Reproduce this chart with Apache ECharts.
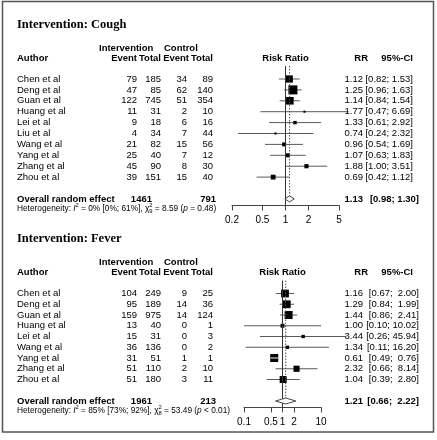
<!DOCTYPE html>
<html><head><meta charset="utf-8">
<script src="https://cdn.jsdelivr.net/npm/echarts@6/dist/echarts.min.js"></script>
<style>html,body{margin:0;padding:0;background:#fff}#c{width:437px;height:440px}</style>
</head><body><div id="c"></div>
<script>
// ================= DATA : Cough =================
const coughAuthors = ['Chen et al','Deng et al','Guan et al','Huang et al','Lei et al','Liu et al','Wang et al','Yang et al','Zhang et al','Zhou et al'];
const coughEventI = [79, 47, 122, 11, 9, 4, 21, 25, 45, 39];
const coughTotalI = [185, 85, 745, 31, 18, 34, 82, 40, 90, 151];
const coughEventC = [34, 62, 51, 2, 6, 7, 15, 7, 8, 15];
const coughTotalC = [89, 140, 354, 10, 16, 44, 56, 12, 30, 40];
const coughRR    = [1.12, 1.25, 1.14, 1.77, 1.33, 0.74, 0.96, 1.07, 1.88, 0.69];
const coughLower = [0.82, 0.96, 0.84, 0.47, 0.61, 0.24, 0.54, 0.63, 1.00, 0.42];
const coughUpper = [1.53, 1.63, 1.54, 6.69, 2.92, 2.32, 1.69, 1.83, 3.51, 1.12];
const coughWeight = [18, 28, 20, 1.5, 4, 1.5, 5.5, 5.5, 6, 8];
const coughOverall = [1.13, 0.98, 1.30];
const coughTotals = [1461, 791];
const coughTicks = [0.2, 0.5, 1, 2, 5];
const coughHet = ['0%', '[0%; 61%]', '9', '8.59', '= 0.48'];

// ================= DATA : Fever =================
const feverAuthors = ['Chen et al','Deng et al','Guan et al','Huang et al','Lei et al','Wang et al','Yang et al','Zhang et al','Zhou et al'];
const feverEventI = [104, 95, 159, 13, 15, 36, 31, 51, 51];
const feverTotalI = [249, 189, 975, 40, 31, 136, 51, 110, 180];
const feverEventC = [9, 14, 14, 0, 0, 0, 1, 2, 3];
const feverTotalC = [25, 36, 124, 1, 3, 2, 1, 10, 11];
const feverRR    = [1.16, 1.29, 1.44, 1.00, 3.44, 1.34, 0.61, 2.32, 1.04];
const feverLower = [0.67, 0.84, 0.86, 0.10, 0.26, 0.11, 0.49, 0.66, 0.39];
const feverUpper = [2.00, 1.99, 2.41, 10.02, 45.94, 16.20, 0.76, 8.14, 2.80];
const feverWeight = [16, 16, 17, 4, 3, 3, 17, 10, 13];
const feverOverall = [1.21, 0.66, 2.22];
const feverTotals = [1961, 213];
const feverTicks = [0.1, 0.5, 1, 2, 10];
const feverHet = ['85%', '[73%; 92%]', '8', '53.49', '< 0.01'];

// ================= LAYOUT =================
const SANS = '"Liberation Sans", Arial, Helvetica, sans-serif';
const SERIF = '"Liberation Serif", "Times New Roman", serif';
const REG = '9.5px ' + SANS;
const BOLD = 'bold 9.5px ' + SANS;
const COL = {author: 17, evI: 137, totI: 161, evC: 187, totC: 213, rr: 363, sumI: 152, sumC: 216};

const panels = [
  {title: 'Intervention: Cough', authors: coughAuthors, evI: coughEventI, totI: coughTotalI, evC: coughEventC, totC: coughTotalC,
   rr: coughRR, lo: coughLower, hi: coughUpper, w: coughWeight, ov: coughOverall, tot: coughTotals, ticks: coughTicks, het: coughHet,
   L: {first: 79, step: 10.9, axisRow: 11.6, left: 232, width: 107, ciRight: 413, ciRightOv: 419, maxSq: 9}},
  {title: 'Intervention: Fever', authors: feverAuthors, evI: feverEventI, totI: feverTotalI, evC: feverEventC, totC: feverTotalC,
   rr: feverRR, lo: feverLower, hi: feverUpper, w: feverWeight, ov: feverOverall, tot: feverTotals, ticks: feverTicks, het: feverHet,
   L: {first: 293.5, step: 10.75, axisRow: 10.6, left: 244, width: 77, ciRight: 419, ciRightOv: 419, maxSq: 8}}
];

function fmtCI(lo, hi, padTo) {
  let h = hi.toFixed(2);
  while (h.length < padTo) h = ' ' + h;
  return '[' + lo.toFixed(2) + '; ' + h + ']';
}
function txt(text, x, y, align, font, fill) {
  return {type: 'text', silent: true, style: {text: String(text), x: x, y: y, align: align, verticalAlign: 'middle', font: font, fill: fill || '#000'}};
}

const mctx = document.createElement('canvas').getContext('2d');
function tw(t, f) { mctx.font = f; return mctx.measureText(t).width; }

function hetElements(p, x, y) {
  const f = '8.3px ' + SANS, fi = 'italic 8.3px ' + SANS, fs = '5.8px ' + SANS;
  const segs = [
    ['Heterogeneity: ', f, 0], ['I', fi, 0], ['2', fs, -3.5], [' = ' + p.het[0] + ' ' + p.het[1] + ', \u03c7', f, 0],
    ['STACK', fs, 0], [' = ' + p.het[3] + ' (', f, 0], ['p', fi, 0], [' ' + p.het[4] + ')', f, 0]
  ];
  const out = [];
  let cx = x;
  segs.forEach(s => {
    if (s[0] === 'STACK') {
      out.push({type: 'text', silent: true, style: {text: '2', x: cx, y: y - 3.5, verticalAlign: 'middle', font: fs, fill: '#000'}});
      out.push({type: 'text', silent: true, style: {text: p.het[2], x: cx, y: y + 3, verticalAlign: 'middle', font: fs, fill: '#000'}});
      cx += Math.max(tw('2', fs), tw(p.het[2], fs));
    } else {
      out.push({type: 'text', silent: true, style: {text: s[0], x: cx, y: y + s[2], verticalAlign: 'middle', font: s[1], fill: '#000'}});
      cx += tw(s[0], s[1]);
    }
  });
  return out;
}

const grids = [], xAxes = [], yAxes = [], series = [], graphics = [];

panels.forEach((p, gi) => {
  const L = p.L, n = p.authors.length;
  const yMin = -13 / L.step, yMax = L.axisRow;
  const top = L.first + yMin * L.step;
  const axisY = L.first + yMax * L.step;
  grids.push({left: L.left, width: L.width, top: top, height: axisY - top, containLabel: false});
  xAxes.push({
    type: 'log', logBase: 10, gridIndex: gi, min: p.ticks[0], max: p.ticks[p.ticks.length - 1],
    axisLine: {show: true, onZero: false, lineStyle: {color: '#444', width: 1}},
    axisTick: {show: true, length: 5, lineStyle: {color: '#444', width: 1}, customValues: p.ticks},
    axisLabel: {customValues: p.ticks, fontSize: 10, fontFamily: SANS, color: '#000', margin: 10, formatter: v => String(+(+v).toFixed(2))},
    splitLine: {show: false}, minorTick: {show: false}
  });
  yAxes.push({type: 'value', gridIndex: gi, min: yMin, max: yMax, inverse: true, show: false});

  const maxW = Math.max.apply(null, p.w);
  const hiLen = Math.max.apply(null, p.hi.map(v => v.toFixed(2).length));

  // study rows: CI line, weighted square, table texts
  series.push({
    type: 'custom', xAxisIndex: gi, yAxisIndex: gi, silent: true, clip: false,
    data: p.rr.map((v, i) => [v, i, p.lo[i], p.hi[i], p.w[i]]),
    encode: {x: 0, y: 1},
    renderItem: function (params, api) {
      const i = params.dataIndex;
      const c = api.coord([api.value(0), i]);
      const y = c[1];
      const x0 = api.coord([api.value(2), i])[0];
      const x1 = api.coord([api.value(3), i])[0];
      const s = L.maxSq * Math.sqrt(api.value(4) / maxW);
      const ch = [
        {type: 'line', shape: {x1: x0, y1: y, x2: x1, y2: y}, style: {stroke: '#5a5a5a', lineWidth: 1}},
        {type: 'rect', shape: {x: c[0] - s / 2, y: y - s / 2, width: s, height: s}, style: {fill: '#000'}}
      ];
      if (x1 - x0 < s) ch.push({type: 'line', shape: {x1: x0, y1: y, x2: x1, y2: y}, style: {stroke: '#fff', lineWidth: 1}});
      ch.push(txt(p.authors[i], COL.author, y, 'left', REG));
      ch.push(txt(p.evI[i], COL.evI, y, 'right', REG));
      ch.push(txt(p.totI[i], COL.totI, y, 'right', REG));
      ch.push(txt(p.evC[i], COL.evC, y, 'right', REG));
      ch.push(txt(p.totC[i], COL.totC, y, 'right', REG));
      ch.push(txt(p.rr[i].toFixed(2), COL.rr, y, 'right', REG));
      ch.push(txt(fmtCI(p.lo[i], p.hi[i], hiLen), L.ciRight, y, 'right', REG));
      return {type: 'group', children: ch};
    }
  });

  // reference lines, pooled diamond, pooled row texts
  series.push({
    type: 'custom', xAxisIndex: gi, yAxisIndex: gi, silent: true, clip: false,
    data: [[p.ov[0], n + 1, p.ov[1], p.ov[2]]],
    encode: {x: 0, y: 1},
    renderItem: function (params, api) {
      const cs = params.coordSys;
      const row = api.value(1);
      const xOne = api.coord([1, row])[0];
      const c = api.coord([api.value(0), row]);
      const xl = api.coord([api.value(2), row])[0];
      const xr = api.coord([api.value(3), row])[0];
      const yo = c[1], h = 3;
      return {type: 'group', children: [
        {type: 'line', shape: {x1: xOne, y1: cs.y, x2: xOne, y2: cs.y + cs.height}, style: {stroke: '#333', lineWidth: 1}},
        {type: 'line', shape: {x1: c[0], y1: cs.y, x2: c[0], y2: yo - h}, style: {stroke: '#555', lineWidth: 1, lineDash: [1.5, 1.5]}},
        {type: 'polygon', shape: {points: [[xl, yo], [c[0], yo - h], [xr, yo], [c[0], yo + h]]}, style: {fill: '#fff', stroke: '#444', lineWidth: 1}},
        txt('Risk Ratio', xOne, L.first - 21, 'center', BOLD),
        txt('Overall random effect', COL.author, yo, 'left', BOLD),
        txt(p.tot[0], COL.sumI, yo, 'right', BOLD),
        txt(p.tot[1], COL.sumC, yo, 'right', BOLD),
        txt(api.value(0).toFixed(2), COL.rr, yo, 'right', BOLD),
        txt(fmtCI(api.value(2), api.value(3), hiLen), L.ciRightOv, yo, 'right', BOLD)
      ]};
    }
  });

  // headings
  graphics.push({type: 'text', silent: true, style: {text: p.title, x: 17, y: L.first - 54.5, verticalAlign: 'middle', font: 'bold 12.5px ' + SERIF, fill: '#000'}});
  graphics.push({type: 'text', silent: true, style: {text: 'Intervention', x: 99, y: L.first - 31, verticalAlign: 'middle', font: BOLD, fill: '#000'}});
  graphics.push({type: 'text', silent: true, style: {text: 'Control', x: 164, y: L.first - 31, verticalAlign: 'middle', font: BOLD, fill: '#000'}});
  [['Author', COL.author, 'left'], ['Event', COL.evI, 'right'], ['Total', COL.totI, 'right'], ['Event', COL.evC + 2, 'right'],
   ['Total', COL.totC, 'right'], ['RR', 368, 'right'], ['95%-CI', 413, 'right']].forEach(h => {
    graphics.push({type: 'text', silent: true, style: {text: h[0], x: h[1], y: L.first - 21, align: h[2], verticalAlign: 'middle', font: BOLD, fill: '#000'}});
  });
  hetElements(p, 17, L.first + (n + 1) * L.step + 9.5).forEach(e => graphics.push(e));
});

graphics.push({type: 'rect', silent: true, shape: {x: 2.5, y: 1.5, width: 431, height: 430.5}, style: {fill: 'none', stroke: '#555', lineWidth: 1.5}, z: 10});

const chart = echarts.init(document.getElementById('c'), null, {renderer: 'canvas'});
chart.setOption({
  animation: false,
  backgroundColor: '#fff',
  grid: grids, xAxis: xAxes, yAxis: yAxes, series: series, graphic: graphics
});
</script>
</body></html>
